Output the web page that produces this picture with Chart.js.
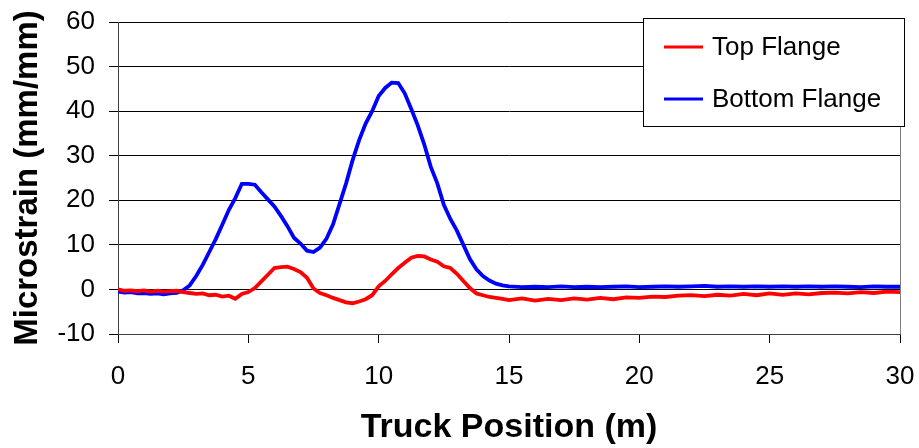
<!DOCTYPE html>
<html lang="en">
<head>
  <meta charset="UTF-8" />
  <title>Microstrain vs Truck Position</title>
  <script src="https://cdn.jsdelivr.net/npm/chart.js"></script>
  <style>
    body { margin: 0; background: #fff; }
    canvas { display: block; }
  </style>
</head>
<body>
  <canvas id="strainChart" width="919" height="448"></canvas>

  <script>
    // truck positions (m): 0.25 m steps up to 15, then 0.5 m steps
    const positions = [
      0, 0.25, 0.5, 0.75, 1, 1.25, 1.5, 1.75, 2, 2.25, 2.5, 2.75,
      3, 3.25, 3.5, 3.75, 4, 4.25, 4.5, 4.75, 5, 5.25, 5.5, 5.75,
      6, 6.25, 6.5, 6.75, 7, 7.25, 7.5, 7.75, 8, 8.25, 8.5, 8.75,
      9, 9.25, 9.5, 9.75, 10, 10.25, 10.5, 10.75, 11, 11.25, 11.5, 11.75,
      12, 12.25, 12.5, 12.75, 13, 13.25, 13.5, 13.75, 14, 14.25, 14.5, 14.75,
      15, 15.5, 16, 16.5, 17, 17.5, 18, 18.5, 19, 19.5, 20, 20.5,
      21, 21.5, 22, 22.5, 23, 23.5, 24, 24.5, 25, 25.5, 26, 26.5,
      27, 27.5, 28, 28.5, 29, 29.5, 30
    ];

    const topFlange = [
      0.0, -0.3, -0.2, -0.4, -0.2, -0.5, -0.3, -0.5, -0.4, -0.3, -0.6, -0.8,
      -1.0, -0.9, -1.3, -1.2, -1.6, -1.4, -2.1, -1.0, -0.6, 0.3, 1.8, 3.3,
      4.8, 5.0, 5.1, 4.6, 3.9, 2.6, 0.2, -0.8, -1.3, -1.9, -2.4, -2.9,
      -3.1, -2.7, -2.2, -1.3, 0.7, 1.9, 3.4, 4.8, 6.0, 7.1, 7.5, 7.4,
      6.7, 6.2, 5.2, 4.8, 3.5, 1.9, 0.3, -0.9, -1.3, -1.7, -1.9, -2.1,
      -2.4, -2.0, -2.5, -2.1, -2.4, -2.0, -2.3, -1.9, -2.2, -1.8, -1.9, -1.6,
      -1.7, -1.4, -1.3, -1.5, -1.2, -1.4, -1.0, -1.3, -0.9, -1.2, -0.9, -1.1,
      -0.8, -0.7, -0.9, -0.6, -0.8, -0.5, -0.6
    ];

    const bottomFlange = [
      -0.5, -0.7, -0.6, -0.9, -0.8, -1.0, -0.9, -1.1, -0.9, -0.8, -0.2, 0.9,
      3.0, 5.5, 8.4, 11.3, 14.5, 17.8, 20.5, 23.7, 23.7, 23.5, 21.8, 20.2,
      18.6, 16.5, 14.2, 11.6, 10.3, 8.7, 8.4, 9.4, 11.4, 14.6, 19.2, 23.8,
      29.0, 33.5, 37.2, 40.0, 43.4, 45.2, 46.4, 46.3, 44.0, 40.5, 36.8, 32.5,
      27.5, 23.8, 19.0, 15.8, 13.2, 10.0, 6.8, 4.5, 3.0, 2.0, 1.3, 0.9,
      0.7, 0.5, 0.6, 0.5, 0.7, 0.5, 0.6, 0.5, 0.6, 0.7, 0.5, 0.6,
      0.7, 0.6, 0.7, 0.8, 0.6, 0.7, 0.6, 0.7, 0.6, 0.7, 0.6, 0.7,
      0.6, 0.7, 0.6, 0.5, 0.7, 0.6, 0.6
    ];

    const seriesNames = ["Top Flange", "Bottom Flange"];
    const seriesColors = ["#ff0000", "#0000ff"];

    const toPoints = vals => positions.map((x, i) => ({ x: x, y: vals[i] }));

    // right edge of the plot frame + boxed legend in the top-right corner
    const frameAndLegend = {
      id: "frameAndLegend",
      afterDraw(chart) {
        const ctx = chart.ctx;
        const area = chart.chartArea;
        ctx.save();
        ctx.strokeStyle = "#808080";
        ctx.lineWidth = 1;
        ctx.beginPath();
        ctx.moveTo(area.right + 0.5, area.top);
        ctx.lineTo(area.right + 0.5, area.bottom);
        ctx.stroke();

        const left = area.right - 257, top = area.top - 4;
        const w = 261, h = 108;
        ctx.fillStyle = "#fff";
        ctx.fillRect(left, top, w, h);
        ctx.strokeStyle = "#000";
        ctx.strokeRect(left + 0.5, top + 0.5, w, h);

        ctx.font = "26px 'Liberation Sans', Arial, sans-serif";
        ctx.textBaseline = "middle";
        chart.data.datasets.forEach((ds, i) => {
          const y = top + 29 + i * 52;
          ctx.strokeStyle = ds.borderColor;
          ctx.lineWidth = 3;
          ctx.beginPath();
          ctx.moveTo(left + 21, y);
          ctx.lineTo(left + 60, y);
          ctx.stroke();
          ctx.fillStyle = "#000";
          ctx.fillText(ds.label, left + 69, y + 1);
        });
        ctx.restore();
      }
    };

    new Chart(document.getElementById("strainChart"), {
      type: "line",
      data: {
        datasets: seriesNames.map((name, i) => ({
          label: name,
          data: toPoints(i === 0 ? topFlange : bottomFlange),
          borderColor: seriesColors[i],
          backgroundColor: seriesColors[i],
          borderWidth: 3.8,
          pointRadius: 0,
          tension: 0,
          fill: false
        }))
      },
      options: {
        responsive: false,
        animation: false,
        layout: { padding: { top: 22, right: 19, bottom: 0, left: 0 } },
        plugins: {
          legend: { display: false },
          tooltip: { enabled: false }
        },
        scales: {
          x: {
            type: "linear",
            min: 0,
            max: 30,
            ticks: {
              stepSize: 5,
              color: "#000",
              padding: 18,
              maxRotation: 0,
              font: { family: "'Liberation Sans', Arial, sans-serif", size: 26 }
            },
            grid: {
              drawOnChartArea: false,
              drawTicks: true,
              tickLength: 9,
              color: "#000"
            },
            border: { color: "#404040", width: 1 },
            title: {
              display: true,
              text: "Truck Position (m)",
              color: "#000",
              padding: { top: 0, bottom: 0 },
              font: { family: "'Liberation Sans', Arial, sans-serif", size: 34, weight: "bold" }
            },
            afterFit(scale) {
              scale.height = 114;
              scale.paddingLeft = 0;
              scale.paddingRight = 0;
            }
          },
          y: {
            min: -10,
            max: 60,
            ticks: {
              stepSize: 10,
              color: "#000",
              padding: 14,
              font: { family: "'Liberation Sans', Arial, sans-serif", size: 26 }
            },
            grid: {
              color: "#000",
              lineWidth: 1,
              drawTicks: true,
              tickLength: 9,
              tickColor: "#000"
            },
            border: { color: "#404040", width: 1 },
            title: {
              display: true,
              text: "Microstrain (mm/mm)",
              color: "#000",
              padding: { top: 8, bottom: 0 },
              font: { family: "'Liberation Sans', Arial, sans-serif", size: 33, weight: "bold" }
            },
            afterFit(scale) {
              scale.width = 118;
              scale.paddingTop = 0;
              scale.paddingBottom = 0;
            }
          }
        }
      },
      plugins: [frameAndLegend]
    });
  </script>
</body>
</html>
